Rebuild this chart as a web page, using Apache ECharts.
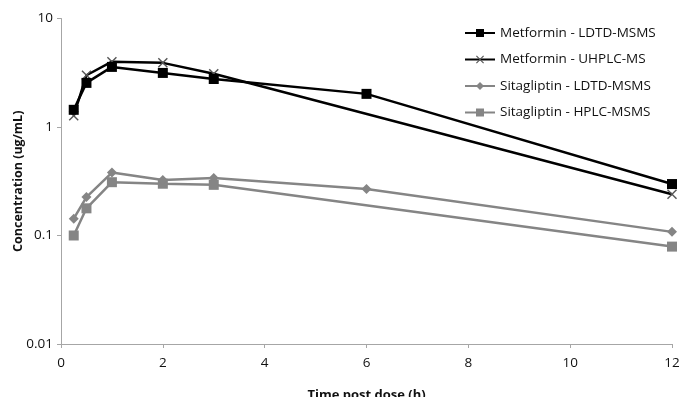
<!DOCTYPE html>
<html><head><meta charset="utf-8">
<script src="https://cdn.jsdelivr.net/npm/echarts@6/dist/echarts.min.js"></script>
<style>html,body{margin:0;padding:0;background:#fff}#c{width:680px;height:397px}</style>
</head><body><div id="c"></div>
<script>
const seriesNames = ["Metformin - LDTD-MSMS","Metformin - UHPLC-MS","Sitagliptin - LDTD-MSMS","Sitagliptin - HPLC-MSMS"];
const metLdtdTime = [0.25,0.5,1,2,3,6,12];
const metLdtd = [1.44,2.55,3.58,3.15,2.77,2.02,0.298];
const metUhplcTime = [0.25,0.5,1,2,3,12];
const metUhplc = [1.27,3.0,4.0,3.9,3.1,0.24];
const sitaLdtdTime = [0.25,0.5,1,2,3,6,12];
const sitaLdtd = [0.143,0.226,0.38,0.324,0.338,0.268,0.108];
const sitaHplcTime = [0.25,0.5,1,2,3,12];
const sitaHplc = [0.1,0.178,0.31,0.3,0.293,0.079];
const xTicks = [0,2,4,6,8,10,12];
const yTicks = [0.01,0.1,1,10];

const pair = (t,v)=>t.map((x,i)=>[x,v[i]]);
const crossPath = 'path://M0,1L1,0L5,4L9,0L10,1L6,5L10,9L9,10L5,6L1,10L0,9L4,5Z';
const font = '"Open Sans", "Liberation Sans", sans-serif';
const chart = echarts.init(document.getElementById('c'));
chart.setOption({
  animation:false,
  grid:{left:61,right:8,top:18.5,bottom:53,outerBoundsMode:'none',containLabel:false},
  legend:{
    orient:'vertical', left:459, top:21, itemWidth:30, itemHeight:10, itemGap:12.5,
    textStyle:{fontFamily:font,fontSize:13.5,color:'#111'},
    data:seriesNames
  },
  xAxis:{
    type:'value', min:xTicks[0], max:xTicks[xTicks.length-1], interval:2,
    name:'Time post dose (h)', nameLocation:'middle', nameGap:45, nameMoveOverlap:false,
    nameTextStyle:{fontFamily:font,fontSize:13,fontWeight:'bold',color:'#111'},
    axisLine:{lineStyle:{color:'#a6a6a6',width:1}},
    axisTick:{show:true,length:4,lineStyle:{color:'#a6a6a6'}},
    axisLabel:{fontFamily:font,fontSize:13.5,color:'#111',margin:12},
    splitLine:{show:false}
  },
  yAxis:{
    type:'log', logBase:10, min:yTicks[0], max:yTicks[yTicks.length-1],
    name:'Concentration (ug/mL)', nameLocation:'middle', nameGap:36, nameMoveOverlap:false,
    nameTextStyle:{fontFamily:font,fontSize:12.5,fontWeight:'bold',color:'#111'},
    axisLine:{show:true,lineStyle:{color:'#a6a6a6',width:1}},
    axisTick:{show:true,length:4,lineStyle:{color:'#a6a6a6'}},
    axisLabel:{fontFamily:font,fontSize:13.5,color:'#111',margin:8,
      formatter:v=>String(+v.toPrecision(3))},
    splitLine:{show:false}
  },
  series:[
    {name:seriesNames[0],type:'line',data:pair(metLdtdTime,metLdtd),symbol:'rect',symbolSize:10,
     lineStyle:{color:'#000',width:2.5},itemStyle:{color:'#000'},z:4},
    {name:seriesNames[1],type:'line',data:pair(metUhplcTime,metUhplc),symbol:crossPath,symbolSize:10,
     lineStyle:{color:'#000',width:2.5},itemStyle:{color:'#555'},z:3},
    {name:seriesNames[2],type:'line',data:pair(sitaLdtdTime,sitaLdtd),symbol:'diamond',symbolSize:10,
     lineStyle:{color:'#858585',width:2.5},itemStyle:{color:'#858585'},z:2},
    {name:seriesNames[3],type:'line',data:pair(sitaHplcTime,sitaHplc),symbol:'rect',symbolSize:10,
     lineStyle:{color:'#858585',width:2.5},itemStyle:{color:'#858585'},z:1}
  ]
});
</script></body></html>
